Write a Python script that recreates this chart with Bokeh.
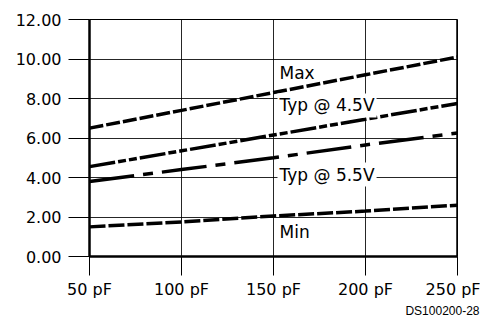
from bokeh.plotting import figure
from bokeh.models import Label, FixedTicker, Range1d, Span, Title
from bokeh.embed import file_html
from bokeh.resources import INLINE

# data
cap_pf = [50, 100, 150, 200, 250]
max_v = [6.5, 7.4, 8.3, 9.2, 10.1]
typ45_v = [4.55, 5.35, 6.15, 6.95, 7.75]
typ55_v = [3.8, 4.4, 5.0, 5.65, 6.25]
min_v = [1.5, 1.75, 2.05, 2.3, 2.6]
x_ticks = [50, 100, 150, 200, 250]
x_tick_labels = ["50 pF", "100 pF", "150 pF", "200 pF", "250 pF"]
y_ticks = [0, 2, 4, 6, 8, 10, 12]
y_tick_labels = ["0.00", "2.00", "4.00", "6.00", "8.00", "10.00", "12.00"]

FONT = "DejaVu Sans"

p = figure(width=480, height=318, output_backend="svg", toolbar_location=None,
           x_range=Range1d(x_ticks[0], x_ticks[-1]), y_range=Range1d(y_ticks[0], y_ticks[-1]),
           min_border_left=89, min_border_right=23, min_border_top=19, min_border_bottom=62)
p.outline_line_color = "black"
p.outline_line_width = 1
p.background_fill_color = "white"

for ax in (p.xaxis[0], p.yaxis[0]):
    ax.axis_line_width = 2.5
    ax.axis_line_color = "black"
    ax.major_tick_line_color = "black"
    ax.major_tick_line_width = 1
    ax.minor_tick_line_color = None
    ax.major_tick_in = 0
    ax.major_label_text_font = FONT
    ax.major_label_text_font_size = "16px"
    ax.major_label_text_color = "black"

p.xaxis.ticker = FixedTicker(ticks=x_ticks)
p.xaxis.major_label_overrides = {t: s for t, s in zip(x_ticks, x_tick_labels)}
p.xaxis.major_tick_out = 19
p.xaxis.major_label_standoff = 4

p.yaxis.ticker = FixedTicker(ticks=y_ticks)
p.yaxis.major_label_overrides = {t: s for t, s in zip(y_ticks, y_tick_labels)}
p.yaxis.major_tick_out = 21
p.yaxis.major_label_standoff = 7

p.add_layout(Span(location=x_ticks[-1], dimension="height", line_color="black", line_width=2.5))

p.xgrid.ticker = FixedTicker(ticks=x_ticks)
p.ygrid.ticker = FixedTicker(ticks=y_ticks)
p.grid.grid_line_color = "black"
p.grid.grid_line_width = 1
p.grid.grid_line_alpha = 0.85

lw = 3.5
p.line(cap_pf, max_v, line_width=lw, color="black", line_dash="14 3")
p.line(cap_pf, typ45_v, line_width=lw, color="black", line_dash="26 3 8 3 8 3")
p.line(cap_pf, typ55_v, line_width=lw, color="black", line_dash="45 9 10 9")
p.line(cap_pf, min_v, line_width=lw, color="black", line_dash="16 3")

def lab(text, y, bg=True):
    l = Label(x=150, y=y, text=text, x_offset=4, text_font=FONT, text_font_size="17px",
              text_baseline="middle", text_color="black",
              background_fill_color="white" if bg else None,
              border_line_color=None, padding=2)
    p.add_layout(l)

lab("Max", 9.3, bg=False)
lab("Typ @ 4.5V", 7.65)
lab("Typ @ 5.5V", 4.15)
lab("Min", 1.25, bg=False)

p.add_layout(Title(text="DS100200-28", align="right", text_font="Liberation Sans",
                   text_font_size="12px", text_font_style="normal", text_color="black",
                   standoff=0, offset=-22), "below")

open("out.html", "w").write(file_html(p, INLINE))
